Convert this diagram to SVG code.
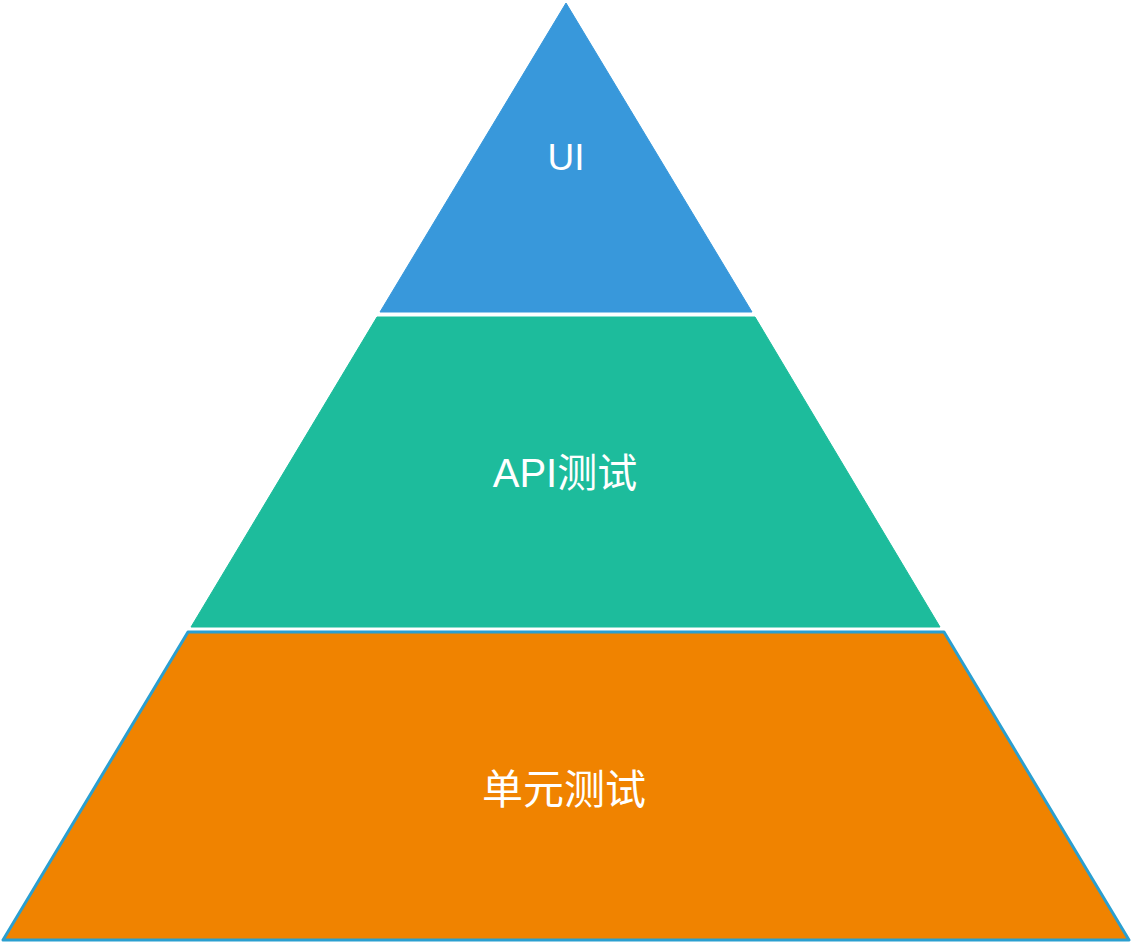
<svg xmlns="http://www.w3.org/2000/svg" width="1132" height="944" viewBox="0 0 1132 944">
<style>
.lbl{fill:#ffffff;font-family:"Liberation Sans","Noto Sans CJK SC",sans-serif;text-anchor:middle;dominant-baseline:central}
</style>
<rect width="1132" height="944" fill="#ffffff"/>
<g id="ui">
<polygon points="566,3 752,312 380,312" fill="#3898db" stroke="#3898db" stroke-width="1" stroke-linejoin="round"/>
<text class="lbl" x="566" y="157" font-size="37">UI</text>
</g>
<g id="api">
<polygon points="377,317 755,317 940,627 191,627" fill="#1dbc9c" stroke="#1dbc9c" stroke-width="1" stroke-linejoin="round"/>
<text class="lbl" x="565" y="473" font-size="40">API测试</text>
</g>
<g id="unit">
<polygon points="188,632 944,632 1129,940 3,940" fill="#f08300" stroke="#2a9fd0" stroke-width="3" stroke-linejoin="round"/>
<text class="lbl" x="564" y="790" font-size="41">单元测试</text>
</g>
<g id="connectors"></g>
</svg>
